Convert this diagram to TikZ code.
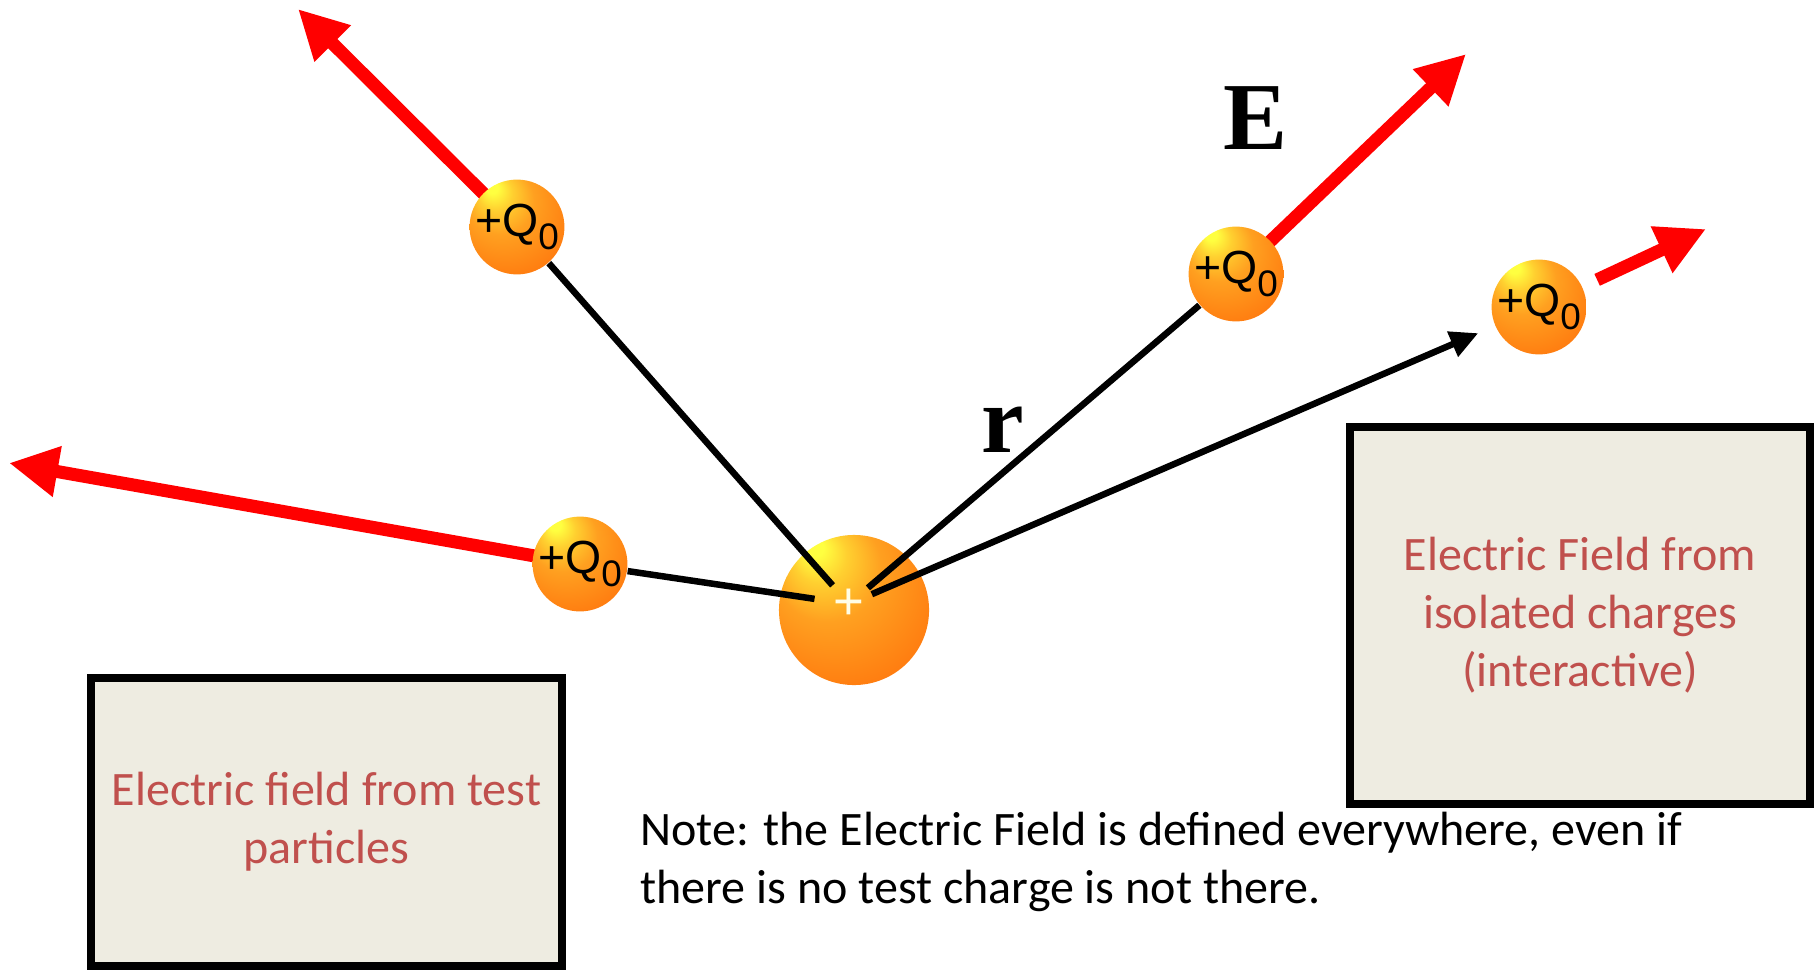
\documentclass[tikz,border=0pt]{standalone}
\usepackage{fontspec}
\setmainfont{Carlito}
\newfontfamily\chargefont{Liberation Sans}
\newfontfamily\vecfont{Liberation Serif}
\usetikzlibrary{arrows.meta}
\definecolor{boxfill}{HTML}{EEECE1}
\definecolor{boxtext}{HTML}{C0504D}
\definecolor{chgA}{HTML}{FFFF40}
\definecolor{chgB}{HTML}{FFD030}
\definecolor{chgC}{HTML}{FFA020}
\definecolor{chgE}{HTML}{FF7C10}
\definecolor{chgD}{HTML}{FF4A00}
\pgfdeclareradialshading{chargeball}{\pgfpoint{-14bp}{22bp}}{color(0bp)=(chgA); color(3bp)=(chgA); color(9bp)=(chgB); color(18bp)=(chgC); color(34bp)=(chgE); color(50bp)=(chgD)}
\pgfdeclarelayer{bg}
\pgfsetlayers{bg,main}
\newcommand{\qzero}{+Q\raisebox{-0.5ex}{\fontsize{10.5}{10.5}\selectfont 0}}
\begin{document}
\begin{tikzpicture}[x=0.01cm,y=-0.01cm,
  charge/.style={circle,shading=chargeball,minimum size=0.9cm,inner sep=0pt,font=\chargefont\fontsize{13.2}{14}\selectfont},
  source/.style={circle,shading=chargeball,minimum size=1.5cm,inner sep=0pt},
  efield/.style={red,line width=0.13cm,-{Triangle[length=0.49cm,width=0.48cm]}},
  rline/.style={black,line width=0.065cm},
  rarrow/.style={rline,-{Triangle[length=0.28cm,width=0.26cm]}},
  infobox/.style={draw=black,line width=0.08cm,fill=boxfill,text=boxtext,align=center,font=\fontsize{13.66}{16.5}\selectfont},
  veclabel/.style={font=\vecfont\bfseries\fontsize{27.3}{30}\selectfont,inner sep=0pt}]
  \useasboundingbox (0,0) rectangle (1816,970);

  % source charge and test charges
  \node[source] (src) at (854,610) {};
  \node[charge] (qa) at (517,227) {\qzero};
  \node[charge] (qb) at (580,564) {\qzero};
  \node[charge] (qc) at (1236,274) {\qzero};
  \node[charge] (qd) at (1539,307) {\qzero};
  \node[circle,inner sep=0.5pt,text=white!90!yellow,font=\chargefont\fontsize{15}{15}\selectfont] (plus) at (849,604) {+};

  % field vectors
  \coordinate (ta) at (298,9);
  \coordinate (tb) at (9,463);
  \coordinate (tc) at (1466,54);
  \coordinate (td) at (1706,229);
  \begin{pgfonlayer}{bg}
    \draw[efield] (qa.center) -- (ta);
    \draw[efield] (qb.center) -- (tb);
    \draw[efield] (qc.center) -- (tc);
  \end{pgfonlayer}
  \draw[efield,shorten <=0.16cm] (qd) -- (td);

  % separation vectors
  \draw[rline] (qa) -- (plus);
  \draw[rline,shorten >=0.1cm] (qb) -- (plus);
  \draw[rline] (qc) -- (plus);
  \draw[rarrow,shorten >=0.18cm] (plus) -- (qd);

  \node[veclabel] (elabel) at (1255,118) {E};
  \node[veclabel] (rlabel) at (1003,430) {r};

  % text boxes
  \node[infobox,minimum width=4.71cm,minimum height=2.88cm] (testbox) at (326.5,822) {Electric field from test\\particles};
  \node[infobox,minimum width=4.60cm,minimum height=3.77cm] (isobox) at (1580,615.5) {Electric Field from\\isolated charges\\(interactive)};
  \node[anchor=west,align=left,font=\fontsize{13.66}{16.5}\selectfont] (note) at (628,862) {Note: the Electric Field is defined everywhere, even if\\there is no test charge is not there.};
\end{tikzpicture}
\end{document}
